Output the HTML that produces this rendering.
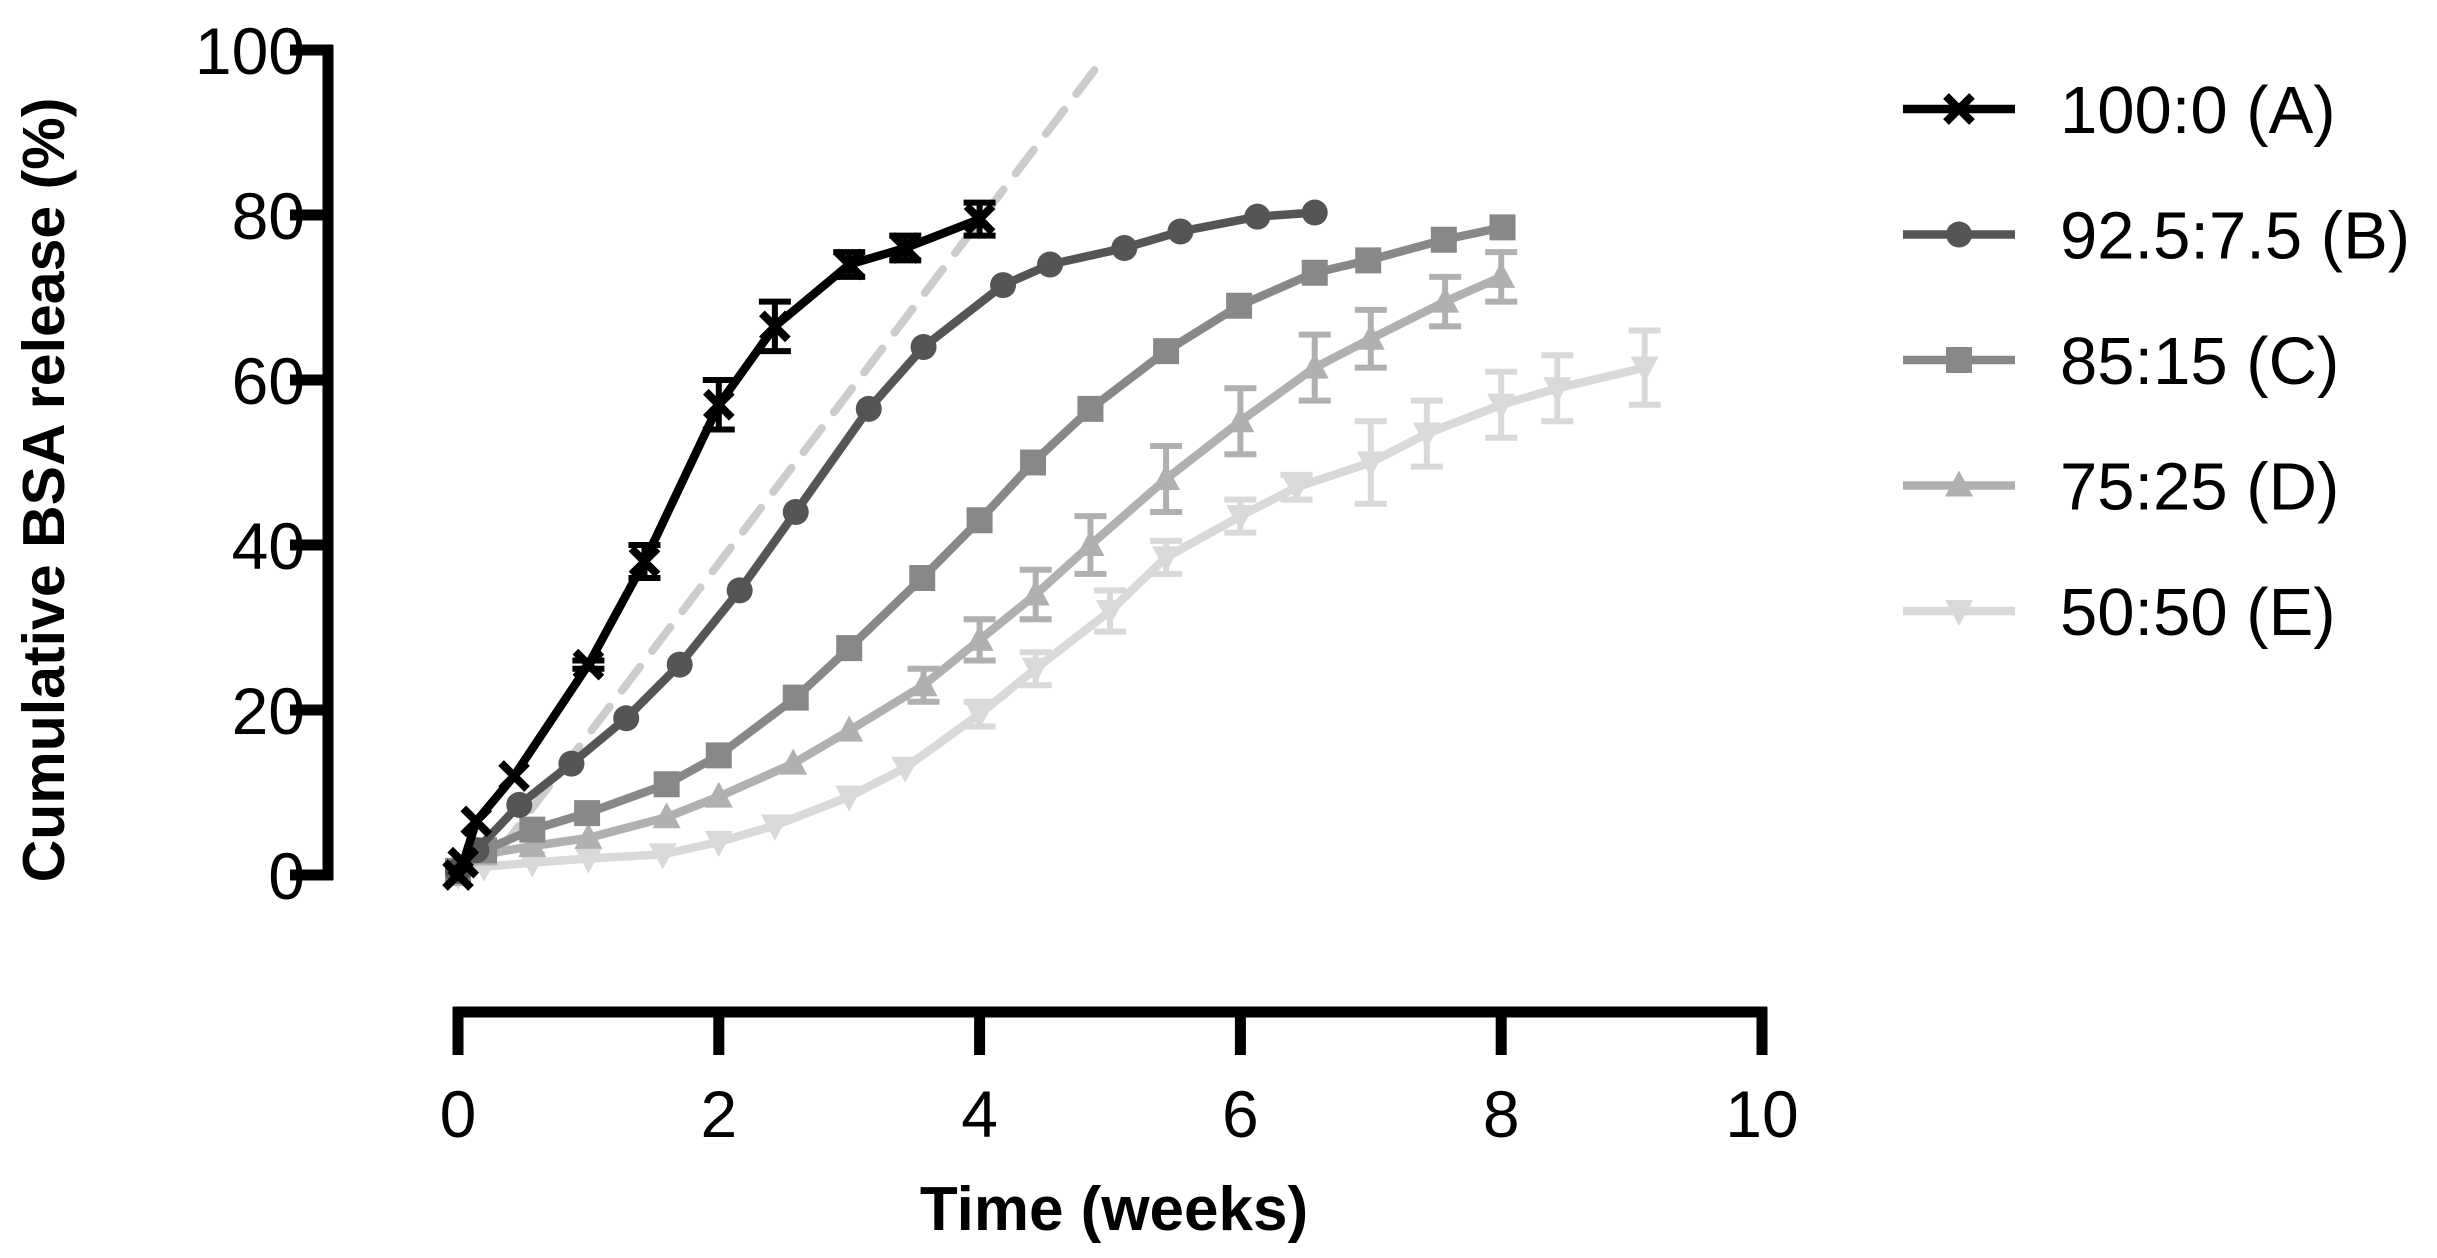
<!DOCTYPE html>
<html><head><meta charset="utf-8"><style>
html,body{margin:0;padding:0;background:#fff;}
svg{display:block;font-family:"Liberation Sans",sans-serif;}
</style></head><body>
<svg id="chart" width="2437" height="1258" viewBox="0 0 2437 1258" xmlns="http://www.w3.org/2000/svg">
<g id="axes"></g>
<g id="plot"></g>
<g id="legend"></g>
<text transform="translate(64,490) rotate(-90)" text-anchor="middle" font-size="59" font-weight="bold">Cumulative BSA release (%)</text>
<text x="1114" y="1230" text-anchor="middle" font-size="62" font-weight="bold">Time (weeks)</text>
</svg>
<script>
const xTicks=[0,2,4,6,8,10];
const yTicks=[0,20,40,60,80,100];
const seriesNames=["100:0 (A)","92.5:7.5 (B)","85:15 (C)","75:25 (D)","50:50 (E)"];
const aX=[0,0.04,0.14,0.43,1,1.43,2,2.43,3,3.43,4];
const aY=[0,1.5,6.5,12,25.5,38,57,66.5,74,76,79.5];
const aE=[0,0,0,0,0.5,2,3,3,1.5,1.5,2];
const bX=[0,0.14,0.47,0.87,1.29,1.7,2.16,2.59,3.15,3.57,4.18,4.54,5.11,5.54,6.13,6.57];
const bY=[0.5,3,8.5,13.5,19,25.5,34.5,44,56.5,64,71.5,74,76,78,79.8,80.3];
const bE=[0,0,0,0,0,0,0,0,0,0,0,0,0,0,0,0];
const cX=[0,0.2,0.57,0.99,1.6,2,2.59,3,3.56,4,4.41,4.85,5.43,5.99,6.57,6.98,7.56,8.01];
const cY=[0.5,3,5.5,7.5,11,14.5,21.5,27.5,36,43,50,56.5,63.5,69,73,74.5,77,78.5];
const cE=[0,0,0,0,0,0,0,0,0,0,0,0,0,0,0,0,0,0];
const dX=[0,0.2,0.57,1,1.6,2,2.57,3,3.57,4,4.43,4.85,5.43,6,6.57,7,7.57,8];
const dY=[0,2.5,3.5,4.5,7,9.5,13.5,17.5,23,28.5,34,40,48,55,61.5,65,69.5,72.5];
const dE=[0,0,0,0,0,0,0,0,2,2.5,3,3.5,4,4,4,3.5,3,3];
const eX=[0,0.2,0.57,1,1.57,2,2.43,3,3.43,4,4.43,5,5.43,6,6.43,7,7.43,8,8.43,9.1];
const eY=[0,1,1.5,2,2.5,4,6,9.5,13,19.5,25,32,38.5,43.5,47,50,53.5,57,59,61.5];
const eE=[0,0,0,0,0,0,0,0,0,1.5,2,2.5,2,2,1.5,5,4,4,4,4.5];
const dashX=[0,0.3,4.95];
const dashY=[0,2.5,99];

const NS="http://www.w3.org/2000/svg";
const X0=458,X1=1762,Y0=875,Y1=50;
function sx(v){return X0+(X1-X0)*v/10;}
function sy(v){return Y0-(Y0-Y1)*v/100;}
function mk(tag,attrs,parent){const e=document.createElementNS(NS,tag);for(const k in attrs)e.setAttribute(k,attrs[k]);parent.appendChild(e);return e;}
const axes=document.getElementById('axes'),plot=document.getElementById('plot'),legend=document.getElementById('legend');

let ya=mk('line',{x1:328,y1:sy(100)-5,x2:328,y2:sy(0)+5,stroke:'#000','stroke-width':11},axes);


yTicks.forEach(t=>{
 let l=mk('line',{x1:290,x2:333,y1:sy(t),y2:sy(t),stroke:'#000','stroke-width':11},axes);
 
 
 let tx=mk('text',{x:305,y:sy(t)+24,'text-anchor':'end','font-size':66},axes);
 tx.textContent=t;
 
 
});
let xa=mk('line',{x1:sx(0)-5,y1:1012,x2:sx(10)+5,y2:1012,stroke:'#000','stroke-width':11},axes);


xTicks.forEach(t=>{
 let l=mk('line',{x1:sx(t),x2:sx(t),y1:1007,y2:1055,stroke:'#000','stroke-width':11},axes);
 
 
 let tx=mk('text',{x:sx(t),y:1137,'text-anchor':'middle','font-size':66},axes);
 tx.textContent=t;
 
 
});

let dp=mk('polyline',{points:dashX.map((x,i)=>sx(x)+','+sy(dashY[i])).join(' '),fill:'none',stroke:'#cccccc','stroke-width':8,'stroke-dasharray':'30 20','stroke-linecap':'round'},plot);



function marker(type,x,y,color,g){
 const s=13;let m;
 if(type==='x'){m=mk('path',{d:`M${x-s},${y-s}L${x+s},${y+s}M${x-s},${y+s}L${x+s},${y-s}`,stroke:color,'stroke-width':8,fill:'none'},g);}
 else if(type==='o'){m=mk('circle',{cx:x,cy:y,r:13,fill:color},g);}
 else if(type==='s'){m=mk('rect',{x:x-13,y:y-13,width:26,height:26,fill:color},g);}
 else if(type==='t'){m=mk('path',{d:`M${x},${y-15}L${x+14},${y+11}L${x-14},${y+11}Z`,fill:color},g);}
 else {m=mk('path',{d:`M${x},${y+15}L${x+14},${y-11}L${x-14},${y-11}Z`,fill:color},g);}
 return m;
}
const all=[[aX,aY,aE,'#000000','x'],[bX,bY,bE,'#555555','o'],[cX,cY,cE,'#888888','s'],[dX,dY,dE,'#b0b0b0','t'],[eX,eY,eE,'#d9d9d9','v']];
for(let k=all.length-1;k>=0;k--){
 const [xs,ys,es,col,mt]=all[k];
 const g=mk('g',{},plot);
 
 
 let pl=mk('polyline',{points:xs.map((x,i)=>sx(x)+','+sy(ys[i])).join(' '),fill:'none',stroke:col,'stroke-width':8.5,'stroke-linejoin':'round'},g);
 
 
 xs.forEach((x,i)=>{
  if(es[i]>0){
   const cx=sx(x),t=sy(ys[i]+es[i]),b=sy(ys[i]-es[i]);
   let eb=mk('path',{d:`M${cx},${t}L${cx},${b}M${cx-16},${t}L${cx+16},${t}M${cx-16},${b}L${cx+16},${b}`,stroke:col,'stroke-width':6,fill:'none'},g);
   
   
  }
  let m=marker(mt,sx(x),sy(ys[i]),col,g);
  
  
 });
}
seriesNames.forEach((n,k)=>{
 const y=109+k*125.5;const col=all[k][3];
 const g=mk('g',{},legend);
 
 
 mk('line',{x1:1903,x2:2015,y1:y,y2:y,stroke:col,'stroke-width':8.5},g);
 marker(all[k][4],1959,y,col,g);
 let t=mk('text',{x:2060,y:y+24,'font-size':67},g);
 t.textContent=n;
});
</script>
</body></html>
